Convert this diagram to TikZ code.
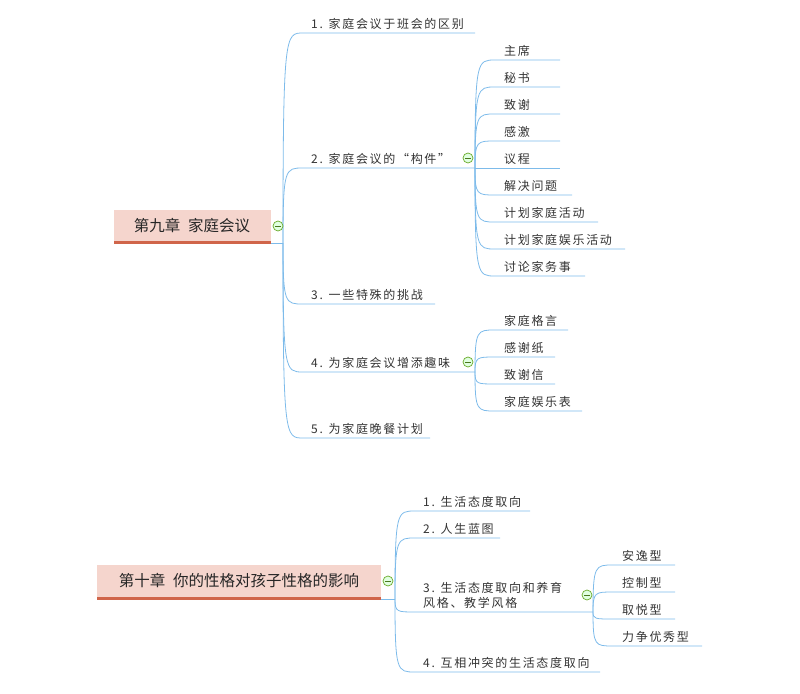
\documentclass[tikz,border=0pt]{standalone}
\usepackage{fontspec}
\setmainfont{Noto Sans CJK SC}
\newfontfamily\labfont[LetterSpace=14]{Noto Sans CJK SC}
\begin{document}
\begin{tikzpicture}[x=1pt,y=-1pt,
  ln/.style={draw=lblue,line width=0.8pt},
  lab/.style={anchor=south west,inner sep=0pt,font=\labfont\fontsize{12}{15}\selectfont,text=black!80}]
\definecolor{lblue}{HTML}{7DBBEA}
\definecolor{rootpink}{HTML}{F5D5CD}
\definecolor{rootbar}{HTML}{D0654A}
\definecolor{igreen}{HTML}{6AAA2A}
\useasboundingbox (0,0) rectangle (800,693);
\newcommand{\mmicon}[2]{\draw[igreen,fill=green!12,line width=0.7pt] (#1,#2) circle (5);\draw[igreen!70!black,line width=0.9pt] (#1-3,#2) -- (#1+3,#2);}
\newcommand{\mmbr}[4]{\draw[ln] (#1,#2) .. controls (#1,#3) and (#1+2,#3) .. (#1+20,#3) -- (#4,#3);}
% root 1
\fill[rootpink] (114,210) rectangle (271,242);
\fill[rootbar] (114,241) rectangle (271,244);
\node[inner sep=0pt,font=\fontsize{15.5}{18}\selectfont,text=black!85] (r1) at (192,226) {第九章\hspace{0.5em}家庭会议};
\draw[ln] (271,243) -- (283,243);
\mmbr{283}{243}{33}{475}
\mmbr{283}{243}{168}{475}
\mmbr{283}{243}{304}{435}
\mmbr{283}{243}{372}{475}
\mmbr{283}{243}{438}{430}
\node[lab] (a1) at (311,30) {1. 家庭会议于班会的区别};
\node[lab] (a2) at (311,165) {2. 家庭会议的“构件”};
\node[lab] (a3) at (311,301) {3. 一些特殊的挑战};
\node[lab] (a4) at (311,369) {4. 为家庭会议增添趣味};
\node[lab] (a5) at (311,435) {5. 为家庭晚餐计划};
\mmbr{475}{168}{60}{560}
\mmbr{475}{168}{87}{560}
\mmbr{475}{168}{114}{560}
\mmbr{475}{168}{141}{560}
\draw[ln] (475,168) -- (560,168);
\mmbr{475}{168}{195}{572}
\mmbr{475}{168}{222}{598}
\mmbr{475}{168}{249}{625}
\mmbr{475}{168}{276}{585}
\node[lab] (b1) at (504,57) {主席};
\node[lab] (b2) at (504,84) {秘书};
\node[lab] (b3) at (504,111) {致谢};
\node[lab] (b4) at (504,138) {感激};
\node[lab] (b5) at (504,165) {议程};
\node[lab] (b6) at (504,192) {解决问题};
\node[lab] (b7) at (504,219) {计划家庭活动};
\node[lab] (b8) at (504,246) {计划家庭娱乐活动};
\node[lab] (b9) at (504,273) {讨论家务事};
\mmbr{475}{372}{330}{568}
\mmbr{475}{372}{357}{555}
\mmbr{475}{372}{384}{555}
\mmbr{475}{372}{411}{582}
\node[lab] (c1) at (504,327) {家庭格言};
\node[lab] (c2) at (504,354) {感谢纸};
\node[lab] (c3) at (504,381) {致谢信};
\node[lab] (c4) at (504,408) {家庭娱乐表};
\mmicon{278}{226}
\mmicon{468}{158}
\mmicon{468}{362}
% root 2
\fill[rootpink] (97,565) rectangle (381,598);
\fill[rootbar] (97,597) rectangle (381,600);
\node[inner sep=0pt,font=\fontsize{15.5}{18}\selectfont,text=black!85] (r2) at (239,581) {第十章\hspace{0.5em}你的性格对孩子性格的影响};
\draw[ln] (381,599) -- (395,599);
\mmbr{395}{599}{511}{530}
\mmbr{395}{599}{538}{500}
\mmbr{395}{599}{612}{593}
\mmbr{395}{599}{672}{600}
\node[lab] (d1) at (423,508) {1. 生活态度取向};
\node[lab] (d2) at (423,535) {2. 人生蓝图};
\node[lab,align=left] (d3) at (423,609) {3. 生活态度取向和养育\\风格、教学风格};
\node[lab] (d4) at (423,669) {4. 互相冲突的生活态度取向};
\mmbr{593}{612}{565}{675}
\mmbr{593}{612}{592}{675}
\mmbr{593}{612}{619}{675}
\mmbr{593}{612}{646}{702}
\node[lab] (e1) at (622,562) {安逸型};
\node[lab] (e2) at (622,589) {控制型};
\node[lab] (e3) at (622,616) {取悦型};
\node[lab] (e4) at (622,643) {力争优秀型};
\mmicon{388}{581}
\mmicon{587}{595}
\end{tikzpicture}
\end{document}
